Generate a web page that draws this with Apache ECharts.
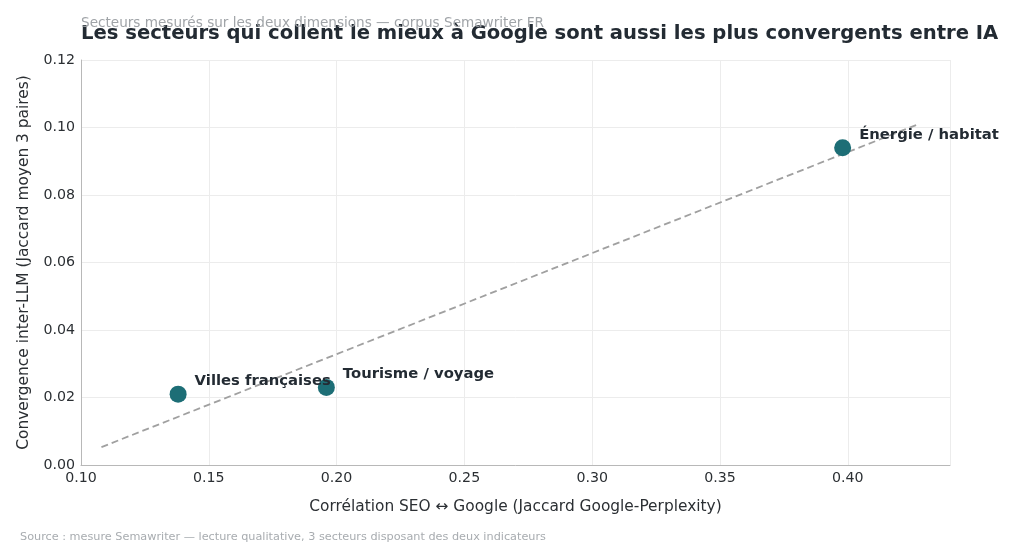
<!DOCTYPE html>
<html><head><meta charset="utf-8">
<script src="https://cdn.jsdelivr.net/npm/echarts@6/dist/echarts.min.js"></script>
<style>html,body{margin:0;padding:0;background:#fff}#c{width:1024px;height:546px}</style>
</head><body><div id="c"></div>
<script>
const sectors = ["Villes françaises", "Tourisme / voyage", "Énergie / habitat"];
const seoGoogle = [0.138, 0.196, 0.398];
const interLLM = [0.021, 0.023, 0.094];
const trendX = [0.108, 0.427];
const trendY = [0.0053, 0.1008];
const xTicks = [0.10, 0.15, 0.20, 0.25, 0.30, 0.35, 0.40];
const yTicks = [0.00, 0.02, 0.04, 0.06, 0.08, 0.10, 0.12];

const FONT = "DejaVu Sans";
const chart = echarts.init(document.getElementById('c'));
chart.setOption({
  backgroundColor: '#fff',
  animation: false,
  textStyle: {fontFamily: FONT},
  title: [
    {text: "Les secteurs qui collent le mieux à Google sont aussi les plus convergents entre IA",
     left: 76, top: 19, textStyle: {fontFamily: FONT, fontSize: 19.6, fontWeight: 'bold', color: '#232b33'}},
    {text: "Secteurs mesurés sur les deux dimensions — corpus Semawriter FR",
     left: 76, top: 11, textStyle: {fontFamily: FONT, fontSize: 13.6, fontWeight: 'normal', color: '#a0a4a8'}},
    {text: "Source : mesure Semawriter — lecture qualitative, 3 secteurs disposant des deux indicateurs",
     left: 15, top: 527, textStyle: {fontFamily: FONT, fontSize: 11.25, fontWeight: 'normal', color: '#a8acb0'}}
  ],
  grid: {left: 81, right: 74, top: 60, bottom: 81},
  xAxis: {
    type: 'value', min: 0.10, max: 0.44, interval: 0.05,
    name: "Corrélation SEO ↔ Google (Jaccard Google-Perplexity)",
    nameLocation: 'middle', nameGap: 34,
    nameTextStyle: {fontFamily: FONT, fontSize: 15.4, color: '#2b2f33'},
    axisLine: {show: true, lineStyle: {color: '#b8b8b8'}},
    axisTick: {show: false},
    axisLabel: {fontFamily: FONT, fontSize: 14.2, color: '#2b2f33', margin: 6,
      formatter: v => xTicks.some(t => Math.abs(t - v) < 1e-9) ? v.toFixed(2) : ''},
    splitLine: {show: true, lineStyle: {color: '#ececec'}}
  },
  yAxis: {
    type: 'value', min: 0, max: 0.12, interval: 0.02,
    name: "Convergence inter-LLM (Jaccard moyen 3 paires)",
    nameLocation: 'middle', nameGap: 50,
    nameTextStyle: {fontFamily: FONT, fontSize: 15.4, color: '#2b2f33'},
    axisLine: {show: true, lineStyle: {color: '#b8b8b8'}},
    axisTick: {show: false},
    axisLabel: {fontFamily: FONT, fontSize: 14.2, color: '#2b2f33', margin: 6,
      formatter: v => yTicks.some(t => Math.abs(t - v) < 1e-9) ? v.toFixed(2) : ''},
    splitLine: {show: true, lineStyle: {color: '#ececec'}}
  },
  series: [
    {
      type: 'line', data: trendX.map((x, i) => [x, trendY[i]]),
      symbol: 'none', silent: true, z: 2,
      lineStyle: {color: '#a0a0a0', width: 1.8, type: [7, 4]}
    },
    {
      type: 'scatter', z: 3,
      data: seoGoogle.map((x, i) => ({value: [x, interLLM[i]], name: sectors[i]})),
      symbolSize: 17,
      itemStyle: {color: '#1d6e76', opacity: 1},
      label: {show: true, position: 'right', distance: 8, offset: [0, -13],
        formatter: p => p.name,
        fontFamily: FONT, fontSize: 14.8, fontWeight: 'bold', color: '#232b33'}
    }
  ]
});
</script></body></html>
